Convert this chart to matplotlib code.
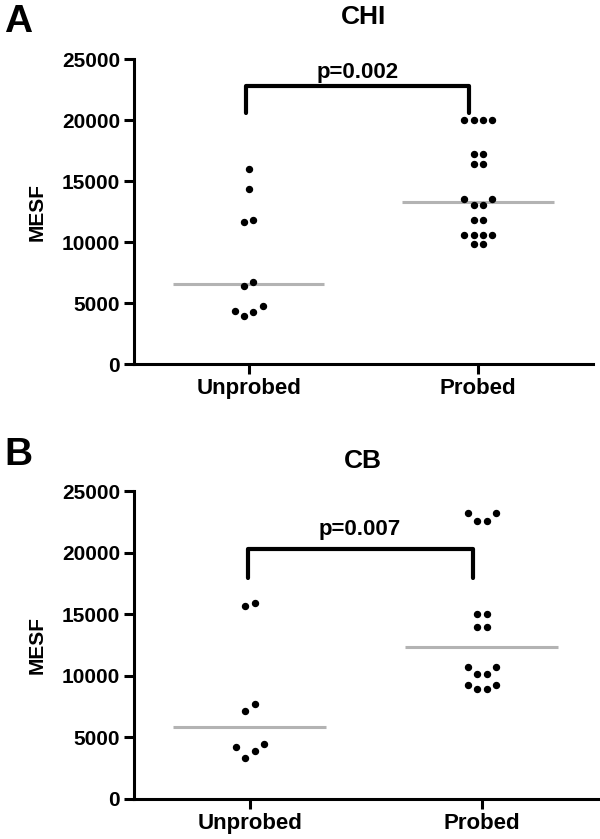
import numpy as np
import matplotlib
matplotlib.use("Agg")
import matplotlib.pyplot as plt

plt.rcParams['font.family'] = ['Liberation Sans', 'DejaVu Sans']
plt.rcParams['font.weight'] = 'bold'

# Data (MESF values)
categories = ["Unprobed", "Probed"]

chi_unprobed = [16000, 14370, 11700, 11860, 6780, 6390, 4370, 3990, 4320, 4750]
chi_probed = [20050, 20050, 20050, 20050, 17270, 17270, 16450, 16450,
              13520, 13520, 13060, 13060, 11860, 11860,
              10570, 10570, 10570, 10570, 9890, 9890]

cb_unprobed = [15880, 15690, 7140, 7710, 4480, 4180, 3880, 3310]
cb_probed = [23210, 23210, 22610, 22610, 14980, 14980, 13950, 13950,
             10720, 10720, 10150, 10150, 9230, 9230, 8960, 8960]

titles = ["CHI", "CB"]
panel_letters = ["A", "B"]
p_values = ["p=0.002", "p=0.007"]
yticks = [0, 5000, 10000, 15000, 20000, 25000]


def scatter_offsets(values, gap=620, step=0.0405):
    # column scatter: values close together share a row, spread symmetric,
    # lowest values in the middle of a row
    order = np.argsort(values)
    vals = np.asarray(values)[order]
    groups = [[order[0]]]
    for k in range(1, len(vals)):
        if vals[k] - vals[k - 1] > gap:
            groups.append([])
        groups[-1].append(order[k])
    offs = np.zeros(len(values))
    for g in groups:
        n = len(g)
        slots = (np.arange(n) - (n - 1) / 2.0) * step
        slots = sorted(slots, key=lambda s: (abs(s), s))
        for idx, s in zip(g, slots):
            offs[idx] = s
    return offs


def draw_panel(ax, data, bracket):
    for i, vals in enumerate(data):
        xpos = i + 1
        offs = scatter_offsets(vals)
        ax.plot(xpos + offs, vals, 'o', color='black', ms=4.3, mec='black',
                zorder=3, clip_on=False)
        med = np.median(vals)
        ax.plot([xpos - 0.33, xpos + 0.33], [med, med], color='#b3b3b3',
                lw=2.2, zorder=2, solid_capstyle='butt')

    y_low, y_top, text_y, label = bracket
    ax.plot([0.99, 0.99, 1.96, 1.96], [y_low, y_top, y_top, y_low],
            color='black', lw=3, solid_capstyle='round', clip_on=False)
    ax.text(1.475, text_y, label, ha='center', va='center', fontsize=16,
            fontweight='bold')

    ax.set_xlim(0.5, 2.5)
    ax.set_ylim(0, 25000)
    ax.set_xticks([1, 2])
    ax.set_xticklabels(categories, fontsize=16, fontweight='bold')
    ax.set_yticks(yticks)
    ax.set_yticklabels([str(t) for t in yticks], fontsize=15, fontweight='bold')
    ax.set_ylabel("MESF", fontsize=15, fontweight='bold', labelpad=11)
    for side in ['top', 'right']:
        ax.spines[side].set_visible(False)
    for side in ['left', 'bottom']:
        ax.spines[side].set_linewidth(2.2)
    ax.tick_params(axis='both', width=2.2, length=7, pad=3)


fig = plt.figure(figsize=(6, 8.39), dpi=100)
ax1 = fig.add_axes([0.2233, 0.5658, 0.765, 0.3635])
ax2 = fig.add_axes([0.2233, 0.0477, 0.773, 0.367])

draw_panel(ax1, [chi_unprobed, chi_probed], (20600, 22810, 23950, p_values[0]))
draw_panel(ax2, [cb_unprobed, cb_probed], (17940, 20290, 21850, p_values[1]))

fig.text(0.605, 1 - 17 / 839, titles[0], ha='center', va='center',
         fontsize=19, fontweight='bold')
fig.text(0.605, 1 - 461 / 839, titles[1], ha='center', va='center',
         fontsize=19, fontweight='bold')
fig.text(0.03, 1 - 22 / 839, panel_letters[0], ha='center', va='center',
         fontsize=28, fontweight='bold')
fig.text(0.03, 1 - 455 / 839, panel_letters[1], ha='center', va='center',
         fontsize=28, fontweight='bold')

fig.savefig("out.png", dpi=100)
